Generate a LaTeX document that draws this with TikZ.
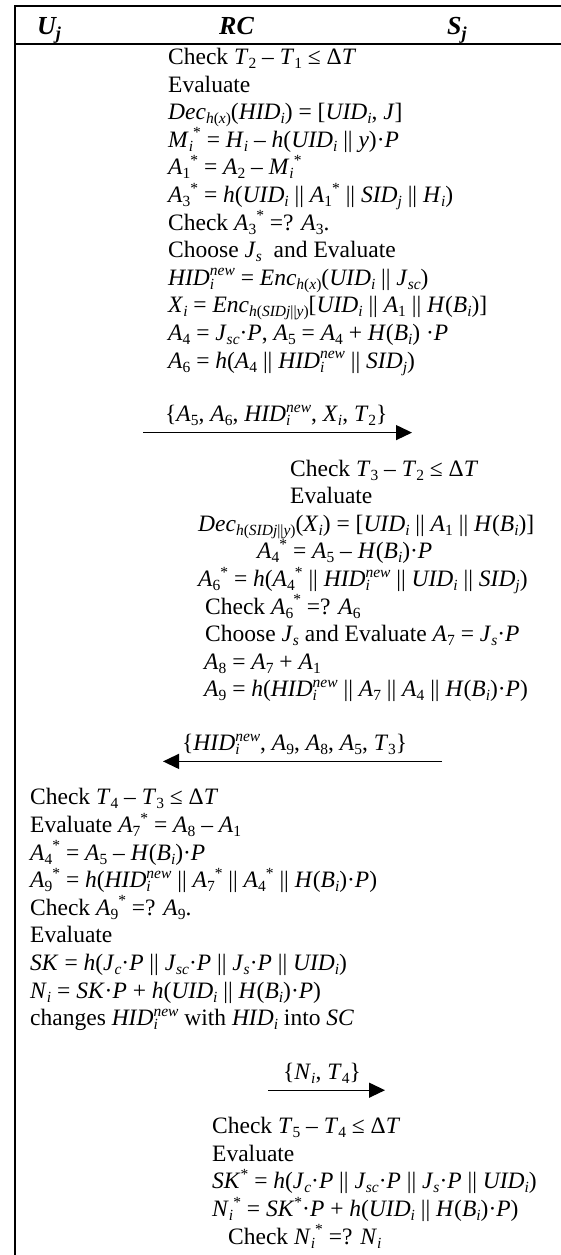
\documentclass[tikz,border=0pt]{standalone}
\usepackage{fontspec}
\setmainfont{Liberation Serif}
\usetikzlibrary{arrows.meta}
\newcommand{\subt}[1]{\raisebox{-0.17em}{\fontsize{15.5}{15.5}\selectfont #1}}
\newcommand{\supt}[1]{\raisebox{0.4em}{\fontsize{15.5}{15.5}\selectfont #1}}
\newcommand{\vari}[1]{\textit{#1}\subt{\textit{i}}}
\newcommand{\varj}[1]{\textit{#1}\subt{\textit{j}}}
\newcommand{\varn}[2]{\textit{#1}\subt{#2}}
\newcommand{\starsup}{\supt{*}}
\newcommand{\hidnew}{\textit{HID}\makebox[0pt][l]{\subt{\textit{i}}}\supt{\textit{new}}}
\newcommand{\hbi}{\textit{H}(\vari{B})}
\newcommand{\blkfont}{\fontsize{23.5}{27.6}\selectfont\setlength{\lineskiplimit}{-100pt}}
\tikzset{
  blk/.style={anchor=north west, inner sep=0pt, align=left, font=\blkfont},
  msg/.style={anchor=base west, inner sep=0pt, font=\fontsize{23.5}{27.6}\selectfont},
  hdr/.style={anchor=base west, inner sep=0pt, font=\fontsize{26}{30}\selectfont\bfseries\itshape},
  flow/.style={line width=1.3pt, -{Triangle[length=16pt,width=15pt]}}
}

\begin{document}
\begin{tikzpicture}[x=1pt, y=-1pt]
\useasboundingbox (0,0) rectangle (561,1255);
% frame
\draw[line width=2pt] (561,6.5) -- (14.5,6.5) -- (14.5,1255);
\draw[line width=2pt] (14.5,44) -- (561,44);
% header
\node[hdr] (uj) at (37,35) {U\textsubscript{j}};
\node[hdr] (rc) at (219,35) {RC};
\node[hdr] (sj) at (447,35) {S\textsubscript{j}};
% RC
\node[blk] (rcA) at (168,48) {Check \varn{T}{2} – \varn{T}{1} ≤ Δ\textit{T}\\
Evaluate\\
\textit{Dec}\subt{\textit{h}(\textit{x})}(\vari{HID}) = [\vari{UID}, \textit{J}]\\
\vari{M}\starsup{} = \vari{H} – \textit{h}(\vari{UID} || \textit{y})·\textit{P}\\
\varn{A}{1}\starsup{} = \varn{A}{2} – \vari{M}\starsup\\
\varn{A}{3}\starsup{} = \textit{h}(\vari{UID} || \varn{A}{1}\starsup{} || \varj{SID} || \vari{H})\\
Check \varn{A}{3}\starsup{} =? \varn{A}{3}.\\
Choose \varn{J}{\textit{s}}\ \ and Evaluate\\
\hidnew{} = \textit{Enc}\subt{\textit{h}(\textit{x})}(\vari{UID} || \varn{J}{\textit{sc}})\\
\vari{X} = \textit{Enc}\subt{\textit{h}(\textit{SIDj}||\textit{y})}[\vari{UID} || \varn{A}{1} || \hbi]\\
\varn{A}{4} = \varn{J}{\textit{sc}}·\textit{P}, \varn{A}{5} = \varn{A}{4} + \hbi{} ·\textit{P}\\
\varn{A}{6} = \textit{h}(\varn{A}{4} || \hidnew{} || \varj{SID})};
% message RC -> Sj
\node[msg] (m1) at (165,421.6) {\{\varn{A}{5}, \varn{A}{6}, \hidnew, \vari{X}, \varn{T}{2}\}};
\coordinate (m1from) at (143,432.6);
\coordinate (m1to) at (412,432.6);
\draw[flow] (m1from) -- (m1to);
% Sj
\node[blk] (sjA) at (198,459.6) {\hspace*{92pt}Check \varn{T}{3} – \varn{T}{2} ≤ Δ\textit{T}\\
\hspace*{92pt}Evaluate\\
\textit{Dec}\subt{\textit{h}(\textit{SIDj}||\textit{y})}(\vari{X}) = [\vari{UID} || \varn{A}{1} || \hbi]\\
\hspace*{59pt}\varn{A}{4}\starsup{} = \varn{A}{5} – \hbi·\textit{P}\\
\varn{A}{6}\starsup{} = \textit{h}(\varn{A}{4}\starsup{} || \hidnew{} || \vari{UID} || \varj{SID})\\
\hspace*{7pt}Check \varn{A}{6}\starsup{} =? \varn{A}{6}\\
\hspace*{7pt}Choose \varn{J}{\textit{s}} and Evaluate \varn{A}{7} = \varn{J}{\textit{s}}·\textit{P}\\
\hspace*{6pt}\varn{A}{8} = \varn{A}{7} + \varn{A}{1}\\
\hspace*{6pt}\varn{A}{9} = \textit{h}(\hidnew{} || \varn{A}{7} || \varn{A}{4} || \hbi·\textit{P})};
% message Sj -> Uj
\node[msg] (m2) at (182,750.4) {\{\hidnew, \varn{A}{9}, \varn{A}{8}, \varn{A}{5}, \varn{T}{3}\}};
\coordinate (m2from) at (442,761.4);
\coordinate (m2to) at (163,761.4);
\draw[flow] (m2from) -- (m2to);
% Uj
\node[blk] (ujA) at (30,788.4) {Check \varn{T}{4} – \varn{T}{3} ≤ Δ\textit{T}\\
Evaluate \varn{A}{7}\starsup{} = \varn{A}{8} – \varn{A}{1}\\
\varn{A}{4}\starsup{} = \varn{A}{5} – \hbi·\textit{P}\\
\varn{A}{9}\starsup{} = \textit{h}(\hidnew{} || \varn{A}{7}\starsup{} || \varn{A}{4}\starsup{} || \hbi·\textit{P})\\
Check \varn{A}{9}\starsup{} =? \varn{A}{9}.\\
Evaluate\\
\textit{SK} = \textit{h}(\varn{J}{\textit{c}}·\textit{P} || \varn{J}{\textit{sc}}·\textit{P} || \varn{J}{\textit{s}}·\textit{P} || \vari{UID})\\
\vari{N} = \textit{SK}·\textit{P} + \textit{h}(\vari{UID} || \hbi·\textit{P})\\
changes \hidnew{} with \vari{HID} into \textit{SC}};
% message Uj -> Sj
\node[msg] (m3) at (283,1079.2) {\{\vari{N}, \varn{T}{4}\}};
\coordinate (m3from) at (268,1090.2);
\coordinate (m3to) at (385,1090.2);
\draw[flow] (m3from) -- (m3to);
% Sj
\node[blk] (sjB) at (212,1117.2) {Check \varn{T}{5} – \varn{T}{4} ≤ Δ\textit{T}\\
Evaluate\\
\textit{SK}\starsup{} = \textit{h}(\varn{J}{\textit{c}}·\textit{P} || \varn{J}{\textit{sc}}·\textit{P} || \varn{J}{\textit{s}}·\textit{P} || \vari{UID})\\
\vari{N}\starsup{} = \textit{SK}\starsup·\textit{P} + \textit{h}(\vari{UID} || \hbi·\textit{P})\\
\hspace*{16pt}Check \vari{N}\starsup{} =? \vari{N}};
\end{tikzpicture}
\end{document}
